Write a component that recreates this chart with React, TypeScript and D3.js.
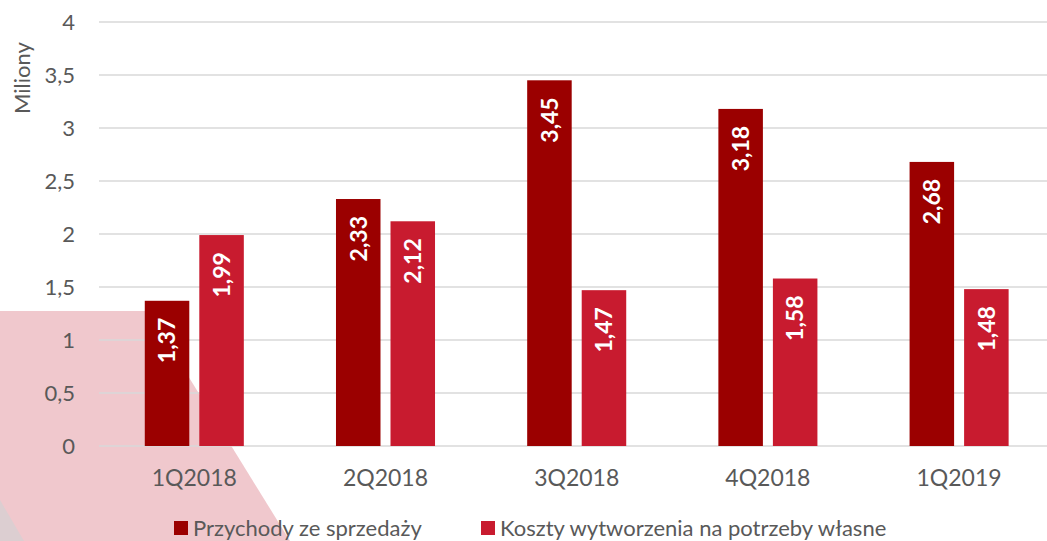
import React from "react";
import * as d3 from "d3";

const categories = ["1Q2018", "2Q2018", "3Q2018", "4Q2018", "1Q2019"];
const seriesNames = ["Przychody ze sprzedaży", "Koszty wytworzenia na potrzeby własne"];
const przychody = [1.37, 2.33, 3.45, 3.18, 2.68];
const koszty = [1.99, 2.12, 1.47, 1.58, 1.48];
const yTicks = [0, 0.5, 1, 1.5, 2, 2.5, 3, 3.5, 4];
const colors = ["#9B0000", "#C81B2F"];

const W = 1047;
const H = 541;
const fmt = (v: number) => String(v).replace(".", ",");

export default function App() {
  const x0 = d3
    .scaleBand<string>()
    .domain(categories)
    .range([98.7, 1054.7])
    .paddingInner(0.482)
    .paddingOuter(0.241);
  const x1 = d3
    .scaleBand<string>()
    .domain(seriesNames)
    .range([0, x0.bandwidth()])
    .paddingInner(0.1835);
  const y = d3.scaleLinear().domain([0, 4]).range([446, 22]);
  const data = [przychody, koszty];
  const font = "Lato, 'Open Sans', sans-serif";

  return (
    <svg
      width={W}
      height={H}
      style={{ position: "absolute", left: 0, top: 0, background: "#fff" }}
      fontFamily={font}
    >
      <polygon points={`0,311 148,311 290,${H} 0,${H}`} fill="#F0C8CD" />
      <polygon points={`0,500 24,${H} 0,${H}`} fill="#DCCED1" />
      {yTicks.map((t) => (
        <g key={t}>
          <line x1={99} x2={W} y1={y(t)} y2={y(t)} stroke="#D9D9D9" strokeWidth={1.5} />
          <text
            x={75}
            y={y(t)}
            dy="0.35em"
            textAnchor="end"
            fontSize={22}
            fill="#595959"
          >
            {fmt(t)}
          </text>
        </g>
      ))}
      <text
        transform={`translate(30,78) rotate(-90)`}
        textAnchor="middle"
        fontSize={22}
        fill="#595959"
      >
        Miliony
      </text>
      {categories.map((c, i) => (
        <g key={c}>
          {seriesNames.map((s, j) => {
            const v = data[j][i];
            const bx = (x0(c) as number) + (x1(s) as number);
            const bw = x1.bandwidth();
            const cx = bx + bw / 2;
            const top = y(v);
            return (
              <g key={s}>
                <rect x={bx} y={top} width={bw} height={y(0) - top} fill={colors[j]} />
                <text
                  transform={`translate(${cx},${top + 17}) rotate(-90)`}
                  textAnchor="end"
                  dy="0.36em"
                  fontSize={23}
                  fontWeight="bold"
                  fill="#fff"
                >
                  {fmt(v)}
                </text>
              </g>
            );
          })}
          <text
            x={(x0(c) as number) + x0.bandwidth() / 2}
            y={486}
            textAnchor="middle"
            fontSize={23}
            fill="#595959"
          >
            {c}
          </text>
        </g>
      ))}
      {seriesNames.map((s, j) => {
        const lx = j === 0 ? 174 : 481;
        return (
          <g key={s}>
            <rect x={lx} y={521} width={14} height={14} fill={colors[j]} />
            <text x={lx + 19} y={528} dy="0.35em" fontSize={22} fill="#595959">
              {s}
            </text>
          </g>
        );
      })}
    </svg>
  );
}
